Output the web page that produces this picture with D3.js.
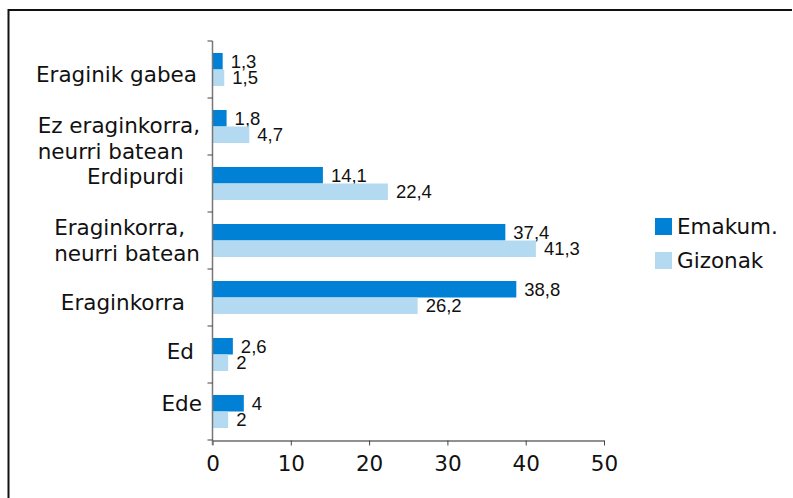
<!DOCTYPE html>
<html><head><meta charset="utf-8">
<script src="https://cdn.jsdelivr.net/npm/d3@7"></script>
<style>body{margin:0;background:#fff}svg{display:block}</style>
</head><body>
<script>
const categories = [["Eraginik gabea"],["Ez eraginkorra,","neurri batean"],["Erdipurdi"],["Eraginkorra,","neurri batean"],["Eraginkorra"],["Ed"],["Ede"]];
const emakum = [1.3, 1.8, 14.1, 37.4, 38.8, 2.6, 4];
const gizonak = [1.5, 4.7, 22.4, 41.3, 26.2, 2, 2];
const seriesNames = ["Emakum.", "Gizonak"];
const xTicks = [0, 10, 20, 30, 40, 50];

const W = 793, H = 498;
const colors = ["#0081d5", "#b4daf2"];
const labelRight = [197, 200, 184, 200, 185, 194, 202];
const labelDy = [5, 12, -7, 0, 5, -3, -8];
const FONT = "DejaVu Sans, Verdana, sans-serif";
const FS = 21.5;

const svg = d3.select("body").append("svg").attr("width", W).attr("height", H);
// frame
svg.append("path").attr("d", "M8.5,498 V10 H792").attr("fill","none").attr("stroke","#111").attr("stroke-width",2);

const x = d3.scaleLinear().domain([0, 50]).range([212.5, 604]);
const y = d3.scaleBand().domain(d3.range(categories.length)).range([41, 440]);
const inner = d3.scaleBand().domain([0,1]).range([0, 33]);
const off = (y.bandwidth() - 33) / 2;

const series = [emakum, gizonak];
series.forEach((vals, s) => {
  svg.append("g").selectAll("rect").data(vals).join("rect")
    .attr("x", x(0)).attr("y", (d,i) => y(i) + off + inner(s))
    .attr("width", d => x(d) - x(0)).attr("height", inner.bandwidth())
    .attr("fill", colors[s]);
  svg.append("g").selectAll("text").data(vals).join("text")
    .attr("x", d => x(d) + 8).attr("y", (d,i) => y(i) + off + inner(s) + inner.bandwidth()/2)
    .attr("dy", "0.35em")
    .attr("font-family", "Liberation Sans, Arial, sans-serif").attr("font-size", 18.5).attr("fill", "#111")
    .text(d => String(d).replace(".", ","));
});

// x axis
const xAxis = svg.append("g").attr("transform", "translate(0,440.5)")
  .call(d3.axisBottom(x).tickValues(xTicks).tickSize(5).tickSizeOuter(0).tickPadding(10));
xAxis.select(".domain").attr("stroke", "#222");
xAxis.selectAll(".tick line").attr("stroke", "#444");
xAxis.selectAll("text").attr("font-family", FONT).attr("font-size", FS).attr("fill", "#111");

// y axis
const yAxis = svg.append("g").attr("transform", "translate(212.5,0)");
yAxis.append("line").attr("x1",0).attr("x2",0).attr("y1",41).attr("y2",445).attr("stroke","#777").attr("stroke-width",1.5);
const yTicks = d3.range(categories.length + 1).map(i => 41 + i * y.step());
yAxis.selectAll("line.t").data(yTicks).join("line").attr("class","t")
  .attr("x1",-5).attr("x2",0).attr("y1",d=>d).attr("y2",d=>d).attr("stroke","#444");

// category labels
categories.forEach((lines, i) => {
  const cy = y(i) + y.bandwidth()/2 + labelDy[i];
  const lh = 26;
  const t = svg.append("text").attr("font-family", FONT).attr("font-size", FS).attr("fill", "#111");
  lines.forEach((ln, k) => {
    t.append("tspan").attr("x", 0).attr("y", cy + (k - (lines.length-1)/2) * lh).attr("dy", "0.35em").text(ln);
  });
  const w = d3.max(t.selectAll("tspan").nodes(), n => n.getComputedTextLength());
  t.attr("transform", `translate(${labelRight[i] - w},0)`);
});

// legend
seriesNames.forEach((n, s) => {
  const ly = 218 + s * 34;
  svg.append("rect").attr("x", 655).attr("y", ly).attr("width", 17).attr("height", 17).attr("fill", colors[s]);
  svg.append("text").attr("x", 677).attr("y", ly + 8.5).attr("dy", "0.35em")
    .attr("font-family", FONT).attr("font-size", FS).attr("fill", "#111").text(n);
});
</script>
</body></html>
